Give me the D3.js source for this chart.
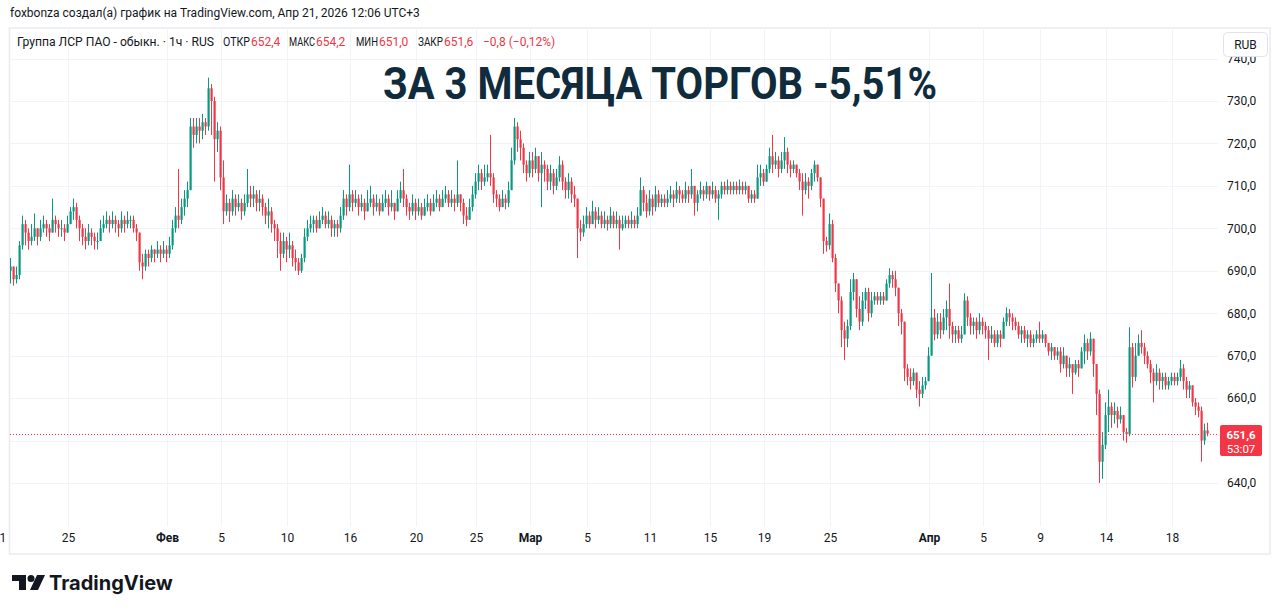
<!DOCTYPE html>
<html>
<head>
<meta charset="utf-8">
<script src="https://cdn.jsdelivr.net/npm/d3@7"></script>
<style>
  body { margin: 0; background: #fff; }
  svg { display: block; font-family: Roboto, "Noto Sans", sans-serif; }
</style>
</head>
<body>
<svg id="chart"></svg>
<script>
// hourly candles (open = previous close)
var firstOpen = 690;
var closes = [
  691, 688, 689, 696, 701, 699, 697, 698, 700, 698,
  700, 701, 700, 699, 702, 701, 700, 700, 699, 701,
  704, 705, 702, 700, 698, 697, 699, 698, 697, 697,
  700, 701, 702, 701, 702, 701, 700, 702, 701, 702,
  702, 700, 699, 692, 691, 694, 693, 695, 694, 695,
  694, 695, 694, 696, 700, 703, 702, 705, 707, 709,
  724, 722, 724, 723, 725, 724, 733, 730, 721, 723,
  712, 704, 706, 704, 707, 705, 706, 704, 706, 708,
  707, 708, 706, 707, 705, 703, 704, 701, 700, 697,
  694, 697, 695, 696, 693, 692, 690, 693, 698, 700,
  701, 702, 700, 702, 703, 701, 702, 700, 701, 700,
  703, 707, 705, 708, 706, 707, 705, 706, 704, 706,
  707, 705, 706, 704, 706, 707, 705, 706, 704, 707,
  709, 707, 705, 704, 706, 704, 705, 703, 705, 706,
  704, 706, 707, 705, 707, 708, 706, 707, 706, 708,
  706, 703, 702, 705, 708, 711, 713, 711, 712, 713,
  712, 708, 707, 705, 707, 706, 709, 716, 724, 721,
  719, 715, 713, 716, 714, 717, 713, 715, 714, 711,
  713, 710, 712, 715, 711, 709, 711, 708, 707, 700,
  699, 701, 703, 701, 704, 702, 703, 701, 702, 701,
  703, 701, 702, 700, 701, 702, 701, 702, 701, 703,
  709, 706, 704, 707, 705, 708, 706, 707, 706, 707,
  708, 707, 709, 708, 707, 709, 708, 710, 706, 708,
  709, 708, 710, 708, 709, 707, 708, 710, 709, 710,
  709, 710, 709, 710, 709, 710, 707, 708, 707, 712,
  713, 711, 714, 717, 715, 716, 714, 716, 718, 715,
  714, 715, 713, 711, 709, 711, 710, 713, 715, 712,
  707, 697, 696, 701, 693, 687, 683, 676, 674, 677,
  685, 688, 681, 678, 683, 685, 680, 683, 684, 683,
  684, 683, 687, 689, 688, 686, 680, 678, 667, 665,
  664, 666, 662, 661, 663, 664, 670, 679, 675, 678,
  676, 679, 681, 677, 675, 676, 674, 675, 683, 679,
  677, 678, 676, 678, 677, 676, 674, 675, 673, 675,
  674, 678, 680, 679, 678, 677, 675, 676, 674, 675,
  673, 674, 675, 674, 675, 673, 671, 672, 670, 671,
  668, 670, 667, 668, 666, 668, 667, 671, 673, 671,
  674, 668, 661, 645, 649, 656, 658, 656, 657, 655,
  656, 652, 651.5, 672, 665, 670, 673, 672, 670, 668,
  666, 664, 666, 664, 665, 663, 664, 665, 664, 665,
  667, 664, 662, 663, 659, 658, 657, 650, 652.4, 651.6
];
var highs = [
  693, 691, 691, 697, 703, 702, 700, 701, 703.5, 700,
  702, 703, 702, 701, 707, 703, 702, 702, 701, 703,
  705, 707, 706, 703, 701, 700, 701, 700, 699, 699,
  702, 703, 704, 703, 704, 703, 702, 704, 703, 704,
  703, 703, 701, 699, 694, 695, 695, 696, 695, 697,
  696, 697, 696, 698, 702, 705, 714, 707, 709, 711,
  726, 726, 726, 726, 727, 726, 735.5, 734, 731, 725,
  724, 716, 708, 707, 709, 708, 708, 707, 708, 714,
  710, 710, 709, 709, 708, 706, 707, 705, 702, 701,
  699, 699, 698, 699, 697, 695, 693, 694, 700, 702,
  703, 703, 703, 704, 705, 704, 704, 703, 702, 702,
  705, 709, 708, 715, 709, 709, 708, 708, 707, 709,
  710, 708, 708, 707, 708, 709, 708, 709, 706, 709,
  711, 714, 708, 706, 708, 707, 707, 706, 707, 708,
  707, 708, 709, 708, 709, 710, 709, 709, 708, 716,
  708, 707, 705, 707, 710, 713, 715, 714, 715, 715,
  722, 713, 709, 708, 709, 708, 711, 719, 726, 725,
  723, 720, 716, 718, 718, 719, 717, 718, 716, 715,
  715, 714, 714, 717, 716, 712, 713, 712, 710, 707,
  702, 703, 705, 704, 706.5, 705, 705, 704, 704, 703,
  705, 704, 704, 703, 703, 703, 703, 704, 703, 705,
  712, 710, 708, 709, 708, 710, 709, 708, 708, 709,
  710, 709, 711, 710, 709, 711, 710, 714, 710, 709,
  711, 710, 711, 710, 711, 710, 709, 711, 711, 711.5,
  711, 711, 711, 711.5, 711, 711, 710, 709, 709, 715,
  715, 714, 715, 719, 722, 718, 717, 718, 721.5, 719,
  716, 716, 715, 714, 713, 713, 712, 714, 716, 715,
  712, 707, 698, 703.5, 702, 694, 687, 684, 678, 678.5,
  688, 689.5, 688, 684, 685, 686, 686, 685, 685, 685,
  685, 685, 688, 690.6, 690, 690, 686, 681, 678, 668,
  667, 667, 666, 664, 665, 665, 672, 689.5, 681, 680,
  680, 681, 683, 687, 678, 677, 677, 677, 684.7, 684,
  680, 679, 679, 680, 679, 678, 677, 677, 676, 676,
  676, 679, 681.4, 681, 680, 679, 678, 677, 677, 676,
  676, 675, 676, 678, 676, 675, 673, 673, 672, 672,
  672, 672, 670, 669.6, 668, 669, 669, 672, 675, 674,
  675.5, 674, 668, 662, 652, 659, 662, 659, 659, 658,
  658, 656, 653, 676.7, 673, 673, 675, 676, 673, 671,
  669, 667, 668, 667, 666, 666, 665, 666, 666, 666,
  669, 668, 665, 664, 663, 660, 659, 658, 654, 654.2
];
var lows = [
  687, 686.5, 687, 688, 695, 696, 695, 696, 697, 696,
  697, 699, 698, 697, 699, 699, 698, 698, 697, 699,
  701, 702, 700, 697, 696, 695, 696, 696, 695, 695,
  697, 699, 700, 699, 700, 699, 698, 699, 699, 700,
  700, 699, 697, 690, 688, 690, 691, 692, 692, 693,
  692, 693, 692, 693, 695, 699, 700, 701, 703, 705,
  709, 719, 720, 720, 721, 722, 723, 722, 711, 718,
  709, 701, 703, 701.5, 703, 703, 704, 702, 703, 705,
  705, 705, 704, 704, 703, 701, 700, 699, 697, 693,
  690, 693, 692, 693, 691, 690, 689, 689.5, 692, 697,
  699, 699, 699, 700, 701, 700, 700, 698, 698, 698,
  699, 702, 703, 704, 704, 705, 703, 704, 702, 704,
  705, 703, 704, 703, 704, 705, 703, 704, 702, 704,
  706, 705, 703, 702, 703, 702, 703, 702, 703, 704,
  703, 704, 705, 704, 705, 706, 705, 705, 704, 705,
  704, 701, 700.5, 702, 704, 707, 709, 709, 710, 711,
  710, 706, 705, 704, 705, 704.5, 705, 709, 715, 718,
  716, 713, 711, 712, 712, 713, 711, 705, 711, 709,
  709, 708, 709, 711, 709, 707, 707, 706, 705, 693,
  697, 698, 700, 700, 701, 700, 701, 700, 700, 699.5,
  700, 700, 700, 695, 699.5, 700, 700, 700, 700, 700,
  703, 704, 702.5, 703, 703, 704, 705, 705, 705, 705,
  706, 705, 706, 706, 706, 706, 706, 707, 703, 704,
  707, 706.5, 707, 706.5, 707, 706, 702, 707, 708, 708,
  708, 708, 708, 708, 708, 708, 706, 706, 706, 707,
  710, 710, 711, 713, 713, 714, 712, 713, 714, 713,
  712, 713, 712, 709, 703, 708, 707, 709, 711, 711,
  705, 694, 694.5, 695, 692, 685, 680, 672, 669, 672,
  676, 683, 679, 676, 677, 681, 678, 679, 682, 682,
  682, 682, 683, 686, 686, 684, 677, 675, 664, 663,
  662, 663, 660, 658, 660, 662, 664, 670, 673.6, 674,
  674, 675, 676, 674, 673, 673, 673, 673, 675, 677,
  675, 675, 674, 675, 675, 674, 669, 673, 672, 672,
  672, 674, 677, 677, 676, 676, 674, 673, 673, 672,
  672, 672, 673, 673, 673, 672, 670, 669, 669, 669,
  666, 667, 665, 665, 661, 665.5, 665, 667, 668, 669,
  670, 665, 656, 640, 641, 648, 652, 653, 654, 653,
  654, 650, 649.5, 651, 662.5, 664, 670, 670.5, 668, 667,
  663.5, 659, 663, 662, 662, 662, 662, 663, 663, 663,
  664, 662, 660, 660, 658, 656, 655.5, 645, 649, 651
];

// time axis: candle index of each label
var dateTickIdx = [-4, 19, 52, 70, 92, 113, 135, 155, 173, 192, 213, 233, 251, 273, 306, 324, 343, 365, 387];
var dateTickLabels = ["21", "25", "Фев", "5", "10", "16", "20", "25", "Мар", "5", "11", "15", "19", "25", "Апр", "5", "9", "14", "18"];
var monthLabels = ["Фев", "Мар", "Апр"];
var priceTicks = [640, 650, 660, 670, 680, 690, 700, 710, 720, 730, 740];
// 650,0 sits under the last-price label, so it is not printed
var priceLabels = [640, 660, 670, 680, 690, 700, 710, 720, 730, 740];

var lastPrice = 651.6;

var width = 1281, height = 613;
var pane = { left: 10, right: 1218, top: 28, bottom: 526 };
var frame = { left: 9.5, right: 1270, top: 28, bottom: 554 };
var upColor = "#089981", downColor = "#f23645", textColor = "#131722", gridColor = "#f0f3fa";

var candles = closes.map(function(c, i) {
    var o = i === 0 ? firstOpen : closes[i - 1];
    return { i: i, open: o, close: c, high: Math.max(highs[i], o, c), low: Math.min(lows[i], o, c) };
});

var svg = d3.select("#chart").attr("width", width).attr("height", height);

var xScale = d3.scaleLinear().domain([0, closes.length - 1]).range([11, 1208]);
var yScale = d3.scaleLinear().domain([640, 730]).range([483, 101]);
var fmt = function(v) { return v.toFixed(1).replace(".", ","); };

var defs = svg.append("defs");
defs.append("clipPath").attr("id", "paneClip")
    .append("rect").attr("x", pane.left).attr("y", pane.top)
    .attr("width", pane.right - pane.left).attr("height", pane.bottom - pane.top);
// in the time axis group's own coordinates
defs.append("clipPath").attr("id", "timeClip")
    .append("rect").attr("x", 0).attr("y", -8).attr("width", pane.right).attr("height", 26);

// frame
svg.append("rect")
    .attr("x", frame.left).attr("y", frame.top)
    .attr("width", frame.right - frame.left).attr("height", frame.bottom - frame.top)
    .attr("fill", "none").attr("stroke", "#e9ebef").attr("stroke-width", 1.5);

// grid
var grid = svg.append("g").attr("clip-path", "url(#paneClip)");
grid.selectAll(".hgrid").data(priceTicks).enter().append("line")
    .attr("x1", pane.left).attr("x2", pane.right)
    .attr("y1", d => Math.round(yScale(d)) + 0.5).attr("y2", d => Math.round(yScale(d)) + 0.5)
    .attr("stroke", gridColor);
grid.selectAll(".vgrid").data(dateTickIdx).enter().append("line")
    .attr("x1", d => Math.round(xScale(d)) + 0.5).attr("x2", d => Math.round(xScale(d)) + 0.5)
    .attr("y1", pane.top).attr("y2", pane.bottom)
    .attr("stroke", gridColor);

// candles
var plot = svg.append("g").attr("clip-path", "url(#paneClip)");
var color = d => d.close >= d.open ? upColor : downColor;

plot.selectAll(".wick").data(candles).enter().append("rect")
    .attr("x", d => Math.round(xScale(d.i)) - 1)
    .attr("width", 1)
    .attr("y", d => yScale(d.high))
    .attr("height", d => Math.max(1, yScale(d.low) - yScale(d.high)))
    .attr("fill", color);

plot.selectAll(".body").data(candles).enter().append("rect")
    .attr("x", d => Math.round(xScale(d.i)) - 1.5)
    .attr("width", 2.2)
    .attr("y", d => yScale(Math.max(d.open, d.close)))
    .attr("height", d => Math.max(1, Math.abs(yScale(d.open) - yScale(d.close))))
    .attr("fill", color);

// last price dotted line
plot.append("line")
    .attr("x1", pane.left).attr("x2", pane.right)
    .attr("y1", Math.round(yScale(lastPrice)) + 0.5).attr("y2", Math.round(yScale(lastPrice)) + 0.5)
    .attr("stroke", downColor).attr("stroke-dasharray", "1,2");

// price axis
var yAxis = svg.append("g")
    .attr("transform", "translate(1227,0)")
    .call(d3.axisRight(yScale).tickValues(priceLabels).tickFormat(fmt).tickSize(0).tickPadding(0));
yAxis.select(".domain").remove();
yAxis.selectAll("text").attr("fill", textColor).style("font-size", "12px").style("font-family", "Roboto, sans-serif");

// time axis
var xAxis = svg.append("g")
    .attr("transform", "translate(0," + (pane.bottom + 7) + ")")
    .attr("clip-path", "url(#timeClip)")
    .call(d3.axisBottom(xScale).tickValues(dateTickIdx)
        .tickFormat((d, k) => dateTickLabels[k]).tickSize(0).tickPadding(0));
xAxis.select(".domain").remove();
xAxis.selectAll("text")
    .attr("fill", textColor)
    .style("font-size", "12px")
    .style("font-family", "Roboto, sans-serif")
    .style("font-weight", (d, k) => monthLabels.indexOf(dateTickLabels[k]) >= 0 ? "bold" : "normal");

// last price label
var lp = svg.append("g");
lp.append("rect").attr("x", 1220).attr("y", 425).attr("width", 42).attr("height", 31)
    .attr("rx", 2).attr("fill", downColor);
lp.append("text").attr("x", 1241).attr("y", 438.5).attr("text-anchor", "middle")
    .attr("fill", "#fff").style("font-size", "11.5px").style("font-weight", "bold").text(fmt(lastPrice));
lp.append("text").attr("x", 1241).attr("y", 452.5).attr("text-anchor", "middle")
    .attr("fill", "#fff").style("font-size", "11.5px").text("53:07");

// currency button
svg.append("rect").attr("x", 1223.5).attr("y", 32.5).attr("width", 44).attr("height", 24)
    .attr("rx", 4).attr("fill", "#fff").attr("stroke", "#e0e3eb");
svg.append("text").attr("x", 1245.5).attr("y", 49).attr("text-anchor", "middle")
    .attr("fill", textColor).style("font-size", "12px").text("RUB");

// header
svg.append("text").attr("x", 10).attr("y", 17)
    .attr("fill", textColor).style("font-size", "12px")
    .text("foxbonza создал(а) график на TradingView.com, Апр 21, 2026 12:06 UTC+3");

// legend
var legend = svg.append("text").attr("y", 46).style("font-size", "12px");
var legendParts = [
    { x: 17, w: 197, t: "Группа ЛСР ПАО - обыкн. · 1ч · RUS", c: textColor },
    { x: 223, w: 27, t: "ОТКР", c: textColor }, { x: 251, t: "652,4", c: downColor },
    { x: 289, w: 26, t: "МАКС", c: textColor }, { x: 316, t: "654,2", c: downColor },
    { x: 356, w: 22, t: "МИН", c: textColor }, { x: 379, t: "651,0", c: downColor },
    { x: 418, w: 25, t: "ЗАКР", c: textColor }, { x: 444, t: "651,6", c: downColor },
    { x: 483, t: "−0,8 (−0,12%)", c: downColor }
];
legendParts.forEach(function(p) {
    var s = legend.append("tspan").attr("x", p.x).attr("fill", p.c).text(p.t);
    if (p.w) s.attr("textLength", p.w).attr("lengthAdjust", "spacingAndGlyphs");
});

// title
svg.append("text").attr("x", 660).attr("y", 99).attr("text-anchor", "middle")
    .attr("fill", "#0f2b3c")
    .attr("textLength", 554).attr("lengthAdjust", "spacingAndGlyphs")
    .style("font-size", "44px").style("font-weight", "bold")
    .text("ЗА 3 МЕСЯЦА ТОРГОВ -5,51%");

// TradingView logo
var logo = svg.append("g").attr("fill", textColor);
logo.append("path").attr("d", "M12,575 H26 V590 H19 V581 H12 Z");
logo.append("circle").attr("cx", 31).attr("cy", 578.5).attr("r", 3.5);
logo.append("path").attr("d", "M37,575 H45 L38,590 H30 Z");
logo.append("text").attr("x", 49).attr("y", 590)
    .style("font-size", "20px").style("font-weight", "bold").style("font-family", "Inter, Roboto, sans-serif")
    .text("TradingView");
</script>
</body>
</html>
